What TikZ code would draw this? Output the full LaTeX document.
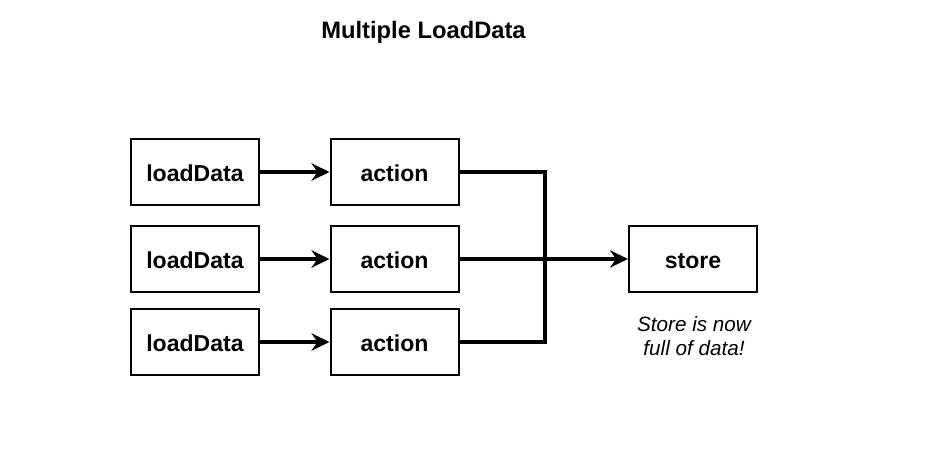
\documentclass[tikz,border=0pt]{standalone}
\usepackage{fontspec}
\setmainfont{Liberation Sans}
\usetikzlibrary{arrows.meta}
\begin{document}
\begin{tikzpicture}[x=0.75pt,y=-0.75pt,
  box/.style={draw=black,line width=1.5pt,minimum width=96pt,minimum height=49.5pt,inner sep=0pt,
    text height=14.6pt,text depth=0pt,
    font=\fontsize{17.3pt}{20pt}\selectfont\bfseries},
  conn/.style={line width=2.6pt,-{Stealth[length=13.5pt,width=13pt,inset=4.5pt]}},
  line/.style={line width=2.6pt}]
\useasboundingbox[fill=white] (0,0) rectangle (952,449);
\node[font=\fontsize{17.8pt}{20pt}\selectfont\bfseries,anchor=base] (title) at (423.5,38.3) {Multiple LoadData};
\node[box] (l1) at (195,172) {loadData};
\node[box] (l2) at (195,259) {loadData};
\node[box] (l3) at (195,342) {loadData};
\node[box] (a1) at (394.5,172) {action};
\node[box] (a2) at (394.5,259) {action};
\node[box] (a3) at (394.5,342) {action};
\node[box] (s) at (693,259) {store};
\node[font=\fontsize{15.5pt}{17.6pt}\selectfont\itshape,align=center,anchor=base] (note) at (694,355) {Store is now\\full of data!};
\coordinate (j) at (545,259);
\draw[conn] (l1) -- (a1);
\draw[conn] (l2) -- (a2);
\draw[conn] (l3) -- (a3);
\draw[line] (a1.east) -| (j);
\draw[line] (a3.east) -| (j);
\draw[conn] (a2) -- (s);
\end{tikzpicture}
\end{document}
